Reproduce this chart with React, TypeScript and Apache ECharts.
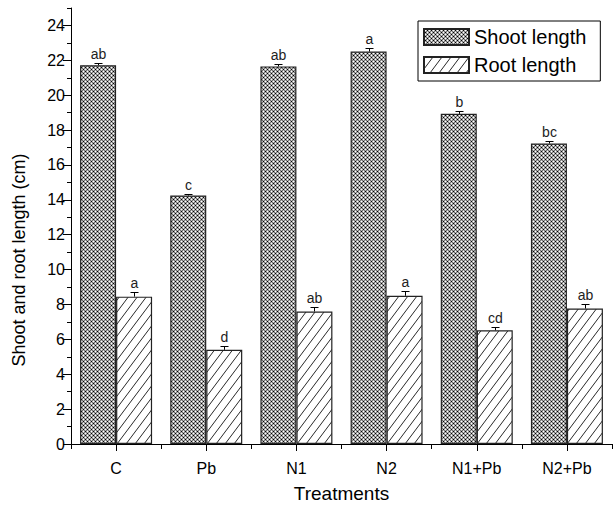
import React, { useEffect, useRef } from "react";
import * as echarts from "echarts";

const treatments = ["C", "Pb", "N1", "N2", "N1+Pb", "N2+Pb"];
const shootLength = [21.72, 14.25, 21.65, 22.5, 18.93, 17.23];
const shootError = [0.14, 0.1, 0.14, 0.2, 0.16, 0.16];
const shootLetters = ["ab", "c", "ab", "a", "b", "bc"];
const rootLength = [8.45, 5.4, 7.6, 8.5, 6.52, 7.77];
const rootError = [0.26, 0.2, 0.24, 0.28, 0.18, 0.24];
const rootLetters = ["a", "d", "ab", "a", "cd", "ab"];
const yMajorTicks = [0, 2, 4, 6, 8, 10, 12, 14, 16, 18, 20, 22, 24];
const yMinorTicks = [1, 3, 5, 7, 9, 11, 13, 15, 17, 19, 21, 23, 25];
const yTitle = "Shoot and root length (cm)";

const FONT = "'Liberation Sans', Arial, Helvetica, sans-serif";
const BAR_W = 36;

// Dense cross-hatch tile: black mesh with white dots
function crossHatch(): HTMLCanvasElement {
  const c = document.createElement("canvas");
  c.width = 4;
  c.height = 4;
  const ctx = c.getContext("2d")!;
  ctx.fillStyle = "#000";
  ctx.fillRect(0, 0, 4, 4);
  ctx.fillStyle = "#fff";
  const centers = [
    [1, 1], [3, 3], [-1, 3], [3, -1], [-1, -1], [5, 3], [3, 5], [5, 5], [1, 5], [5, 1],
  ];
  for (const [x, y] of centers) {
    ctx.beginPath();
    ctx.arc(x + 0.5, y + 0.5, 1.2, 0, Math.PI * 2);
    ctx.fill();
  }
  return c;
}

// Diagonal "////" hatch tile
function diagonalHatch(): HTMLCanvasElement {
  const w = 9;
  const h = 12;
  const c = document.createElement("canvas");
  c.width = w;
  c.height = h;
  const ctx = c.getContext("2d")!;
  ctx.fillStyle = "#fff";
  ctx.fillRect(0, 0, w, h);
  ctx.strokeStyle = "#111";
  ctx.lineWidth = 0.9;
  for (const off of [-w, 0, w]) {
    ctx.beginPath();
    ctx.moveTo(off - 0.75, h + 1);
    ctx.lineTo(off + w + 0.75, -1);
    ctx.stroke();
  }
  return c;
}

function errorSeries(values: number[], errors: number[], letters: string[], dx: number) {
  return {
    type: "custom",
    xAxisIndex: 0,
    yAxisIndex: 0,
    z: 5,
    silent: true,
    data: values.map((v, i) => [i, v, errors[i]]),
    renderItem: (params: any, api: any) => {
      const i = api.value(0);
      const v = api.value(1);
      const e = api.value(2);
      const base = api.coord([i, v]);
      const top = api.coord([i, v + e]);
      const x = Math.round(base[0] + dx) + 0.5;
      const yt = Math.round(top[1]) + 0.5;
      return {
        type: "group",
        children: [
          {
            type: "line",
            shape: { x1: x, y1: base[1], x2: x, y2: yt },
            style: { stroke: "#000", lineWidth: 1 },
          },
          {
            type: "line",
            shape: { x1: x - 4, y1: yt, x2: x + 4, y2: yt },
            style: { stroke: "#000", lineWidth: 1 },
          },
          {
            type: "text",
            x,
            y: yt - 3,
            style: {
              text: letters[params.dataIndex],
              fill: "#222",
              font: `14px ${FONT}`,
              align: "center",
              verticalAlign: "bottom",
            },
          },
        ],
      };
    },
  };
}

export default function App() {
  const ref = useRef<HTMLDivElement>(null);

  useEffect(() => {
    if (!ref.current) return;
    const chart = echarts.init(ref.current, undefined, { renderer: "svg" });

    const shootFill = { image: crossHatch(), repeat: "repeat" };
    const rootFill = { image: diagonalHatch(), repeat: "repeat" };

    const axisLineStyle = { color: "#000", width: 1 };

    chart.setOption({
      animation: false,
      backgroundColor: "#fff",
      textStyle: { fontFamily: FONT },
      grid: { left: 71, right: 2, top: 8, bottom: 59, containLabel: false },
      legend: {
        data: ["Shoot length", "Root length"],
        orient: "vertical",
        left: 418,
        top: 21,
        icon: "rect",
        itemWidth: 45,
        itemHeight: 16,
        itemGap: 8,
        padding: [6, 14, 6, 5],
        borderColor: "#000",
        borderWidth: 1,
        textStyle: { fontSize: 20, color: "#000", fontFamily: FONT },
        selectedMode: false,
      },
      graphic: [
        {
          type: "text",
          x: 19,
          y: 260,
          rotation: Math.PI / 2,
          style: {
            text: yTitle,
            font: `18px ${FONT}`,
            fill: "#000",
            align: "center",
            verticalAlign: "middle",
          },
        },
      ],
      xAxis: [
        {
          type: "category",
          data: treatments,
          position: "bottom",
          name: "Treatments",
          nameLocation: "middle",
          nameGap: 40,
          nameTextStyle: { fontSize: 19, color: "#000", fontFamily: FONT },
          axisLine: { show: true, lineStyle: axisLineStyle },
          axisTick: { show: true, alignWithLabel: true, length: 7, lineStyle: axisLineStyle },
          axisLabel: { fontSize: 16, color: "#000", margin: 16, fontFamily: FONT },
          splitLine: { show: false },
        },
        {
          type: "category",
          data: treatments,
          position: "bottom",
          axisLine: { show: false },
          axisTick: { show: true, length: 5, lineStyle: axisLineStyle },
          axisLabel: { show: false },
          splitLine: { show: false },
        },
      ],
      yAxis: [
        {
          type: "value",
          min: 0,
          max: 25,
          position: "left",
          axisLine: { show: true, lineStyle: axisLineStyle },
          axisTick: { show: true, length: 8, lineStyle: axisLineStyle, customValues: yMajorTicks },
          axisLabel: { fontSize: 16, color: "#000", margin: 6, fontFamily: FONT, customValues: yMajorTicks },
          splitLine: { show: false },
        },
        {
          type: "value",
          min: 0,
          max: 25,
          position: "left",
          axisLine: { show: false },
          axisTick: { show: true, length: 4, lineStyle: axisLineStyle, customValues: yMinorTicks },
          axisLabel: { show: false, customValues: yMinorTicks },
          splitLine: { show: false },
        },
      ],
      series: [
        {
          name: "Shoot length",
          type: "bar",
          data: shootLength,
          barWidth: BAR_W,
          barGap: "0%",
          itemStyle: { color: shootFill, borderColor: "#222", borderWidth: 1.2 },
        },
        {
          name: "Root length",
          type: "bar",
          data: rootLength,
          barWidth: BAR_W,
          barGap: "0%",
          itemStyle: { color: rootFill, borderColor: "#222", borderWidth: 1.2 },
        },
        errorSeries(shootLength, shootError, shootLetters, -BAR_W / 2),
        errorSeries(rootLength, rootError, rootLetters, BAR_W / 2),
      ],
    });

    return () => chart.dispose();
  }, []);

  return (
    <div
      ref={ref}
      style={{ position: "fixed", left: 0, top: 0, width: 614, height: 508, background: "#fff" }}
    />
  );
}
